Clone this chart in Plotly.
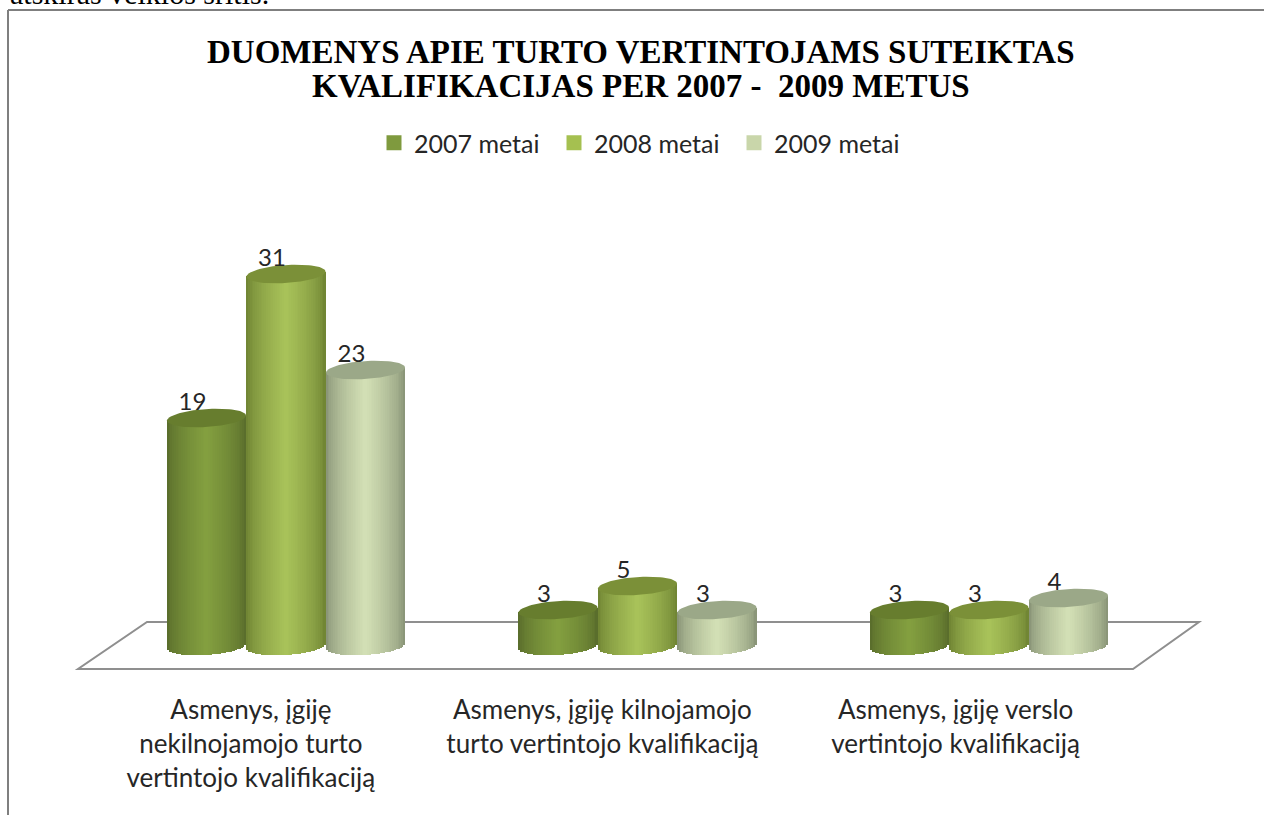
import numpy as np
import plotly.graph_objects as go

categories = ["Asmenys, įgiję<br>nekilnojamojo turto<br>vertintojo kvalifikaciją",
              "Asmenys, įgiję kilnojamojo<br>turto vertintojo kvalifikaciją",
              "Asmenys, įgiję verslo<br>vertintojo kvalifikaciją"]
series_names = ["2007 metai", "2008 metai", "2009 metai"]
values_2007 = [19, 3, 3]
values_2008 = [31, 5, 3]
values_2009 = [23, 3, 4]
all_values = [values_2007, values_2008, values_2009]
title_lines = ["DUOMENYS APIE TURTO VERTINTOJAMS SUTEIKTAS",
               "KVALIFIKACIJAS PER 2007 -  2009 METUS"]

edge_colors = ["#56692a", "#6b7f30", "#838e72"]
mid_colors = ["#84a040", "#a9c35a", "#d4e1b6"]
top_colors = ["#677d2e", "#7b9038", "#9ba888"]
legend_colors = ["#7f9a3e", "#a5c050", "#c9d6aa"]

W, H = 1264, 815
PLOT_B = 680
CX0, DX = 286.0, 351.5
Y0, DY = 646.0, 12.0
xv = lambda px: 1 + (px - CX0) / DX
yv = lambda py: (Y0 - py) / DY
py_paper = lambda py: (PLOT_B - py) / PLOT_B

OFFSET = 79.5 / DX
BAR_W = 79.0 / DX
H_E = 9.0 / DY
TILT = 2.5 / DY
N = 44


def hex_rgb(c):
    return np.array([int(c[i:i + 2], 16) for i in (1, 3, 5)], float)


def shade(edge, mid, t):
    k = (1 - abs(t)) ** 0.6
    rgb = hex_rgb(edge) * (1 - k) + hex_rgb(mid) * k
    return "rgb(%d,%d,%d)" % tuple(rgb)


fig = go.Figure()
ts = (np.arange(N) + 0.5) / N * 2 - 1
for s, vals in enumerate(all_values):
    xs, ys, bases, cols = [], [], [], []
    for c, v in enumerate(vals):
        cx = c + 1 + (s - 1) * OFFSET
        for t in ts:
            b = TILT * t - H_E * np.sqrt(1 - t * t)
            xs.append(cx + t * BAR_W / 2)
            bases.append(b)
            ys.append(v + TILT * t - b)
            cols.append(shade(edge_colors[s], mid_colors[s], t))
    fig.add_trace(go.Bar(x=xs, y=ys, base=bases, width=BAR_W / N * 1.25,
                         marker=dict(color=cols, line=dict(width=0)),
                         showlegend=False, hoverinfo="skip"))

th = np.linspace(0, 2 * np.pi, 80)
for s, vals in enumerate(all_values):
    for c, v in enumerate(vals):
        cx = c + 1 + (s - 1) * OFFSET
        ct = np.cos(th)
        fig.add_trace(go.Scatter(x=cx + ct * BAR_W / 2,
                                 y=v + TILT * ct + H_E * np.sin(th),
                                 mode="lines", fill="toself",
                                 fillcolor=top_colors[s], line=dict(width=0),
                                 showlegend=False, hoverinfo="skip"))

for s, vals in enumerate(all_values):
    fig.add_trace(go.Scatter(
        x=[c + 1 + (s - 1) * OFFSET - 14 / DX for c in range(len(vals))],
        y=[v + 14.5 / DY for v in vals],
        mode="text", text=[str(v) for v in vals],
        textposition="middle center",
        textfont=dict(family="Lato", size=24, color="#262626"),
        showlegend=False, hoverinfo="skip"))

for s, name in enumerate(series_names):
    fig.add_trace(go.Scatter(x=[None], y=[None], mode="markers", name=name,
                             marker=dict(symbol="square", size=15, color=legend_colors[s])))

floor_path = "M {} {} L {} {} L {} {} L {} {} Z".format(
    xv(147), yv(622), xv(1199), yv(622), xv(1133), yv(669), xv(78), yv(669))

shapes = [
    dict(type="path", path=floor_path, xref="x", yref="y", layer="below",
         line=dict(color="#8f8f8f", width=2), fillcolor="rgba(0,0,0,0)"),
    dict(type="line", xref="paper", yref="paper", layer="below",
         x0=8 / W, x1=8 / W, y0=py_paper(H), y1=py_paper(10),
         line=dict(color="#7f7f7f", width=2)),
    dict(type="line", xref="paper", yref="paper", layer="below",
         x0=8 / W, x1=1, y0=py_paper(10), y1=py_paper(10),
         line=dict(color="#7f7f7f", width=2)),
]

annotations = [
    dict(text="atskiras veiklos sritis.", xref="paper", yref="paper", x=8 / W, y=1,
         xanchor="left", yanchor="top", yshift=25, showarrow=False,
         font=dict(family="Liberation Serif", size=30, color="#000000")),
]
for line, cy in zip(title_lines, [52, 86]):
    annotations.append(dict(text="<b>" + line + "</b>", xref="paper", yref="paper",
                            x=641 / W, y=py_paper(cy), xanchor="center", yanchor="middle",
                            showarrow=False, align="center",
                            font=dict(family="Liberation Serif", size=33, color="#000000")))

fig.update_layout(
    width=W, height=H, autosize=False,
    margin=dict(l=0, r=0, t=0, b=H - PLOT_B, pad=0),
    paper_bgcolor="#ffffff", plot_bgcolor="rgba(0,0,0,0)",
    barmode="overlay", bargap=0,
    shapes=shapes, annotations=annotations,
    legend=dict(orientation="h", x=374 / W, xanchor="left",
                y=py_paper(143), yanchor="middle",
                entrywidth=135, entrywidthmode="pixels", itemsizing="trace",
                font=dict(family="Lato", size=25, color="#262626"),
                bgcolor="rgba(0,0,0,0)"),
    xaxis=dict(range=[xv(0), xv(W)], showgrid=False, zeroline=False, showline=False,
               tickmode="array", tickvals=[0.9, 1.9, 2.905], ticktext=categories,
               ticks="outside", ticklen=7, tickcolor="rgba(0,0,0,0)",
               tickfont=dict(family="Lato", size=26, color="#262626"), tickangle=0),
    yaxis=dict(range=[yv(PLOT_B), yv(0)], visible=False, showgrid=False, zeroline=False),
    showlegend=True,
)
fig.write_html("out.html", post_script="document.body.style.margin='0';",
               config={"displayModeBar": False})
